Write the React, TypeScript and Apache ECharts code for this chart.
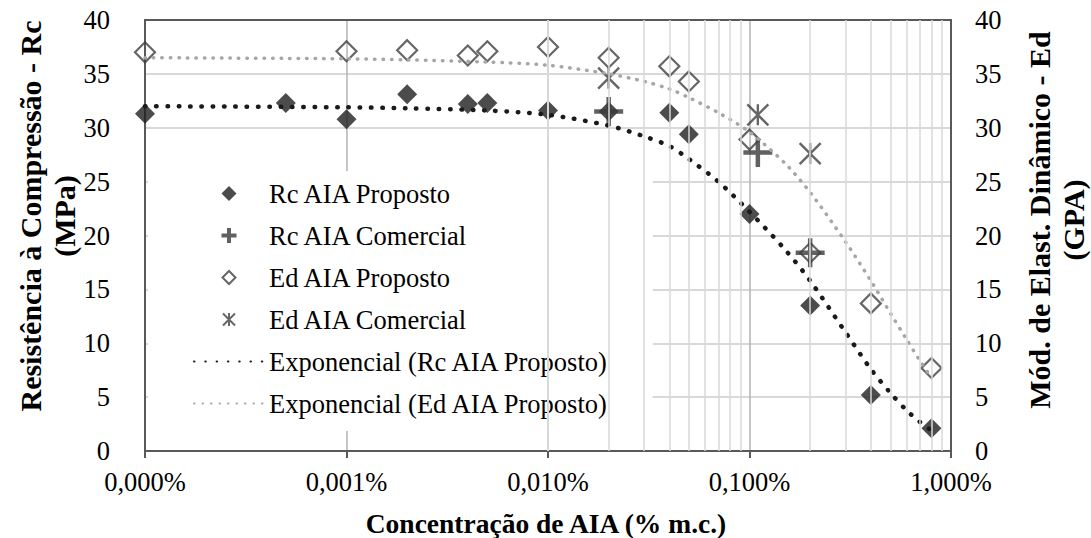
import React, { useEffect, useRef } from "react";
import * as echarts from "echarts";

// ---- data (concentration in % m.c., values in MPa / GPa) ----
const concRcProposto = [0.0001, 0.0005, 0.001, 0.002, 0.004, 0.005, 0.01, 0.02, 0.04, 0.05, 0.1, 0.2, 0.4, 0.8];
const rcProposto = [31.3, 32.3, 30.8, 33.1, 32.2, 32.3, 31.6, 31.5, 31.4, 29.4, 22.0, 13.5, 5.2, 2.1];

const concRcComercial = [0.02, 0.11, 0.2];
const rcComercial = [31.5, 27.7, 18.4];

const concEdProposto = [0.0001, 0.001, 0.002, 0.004, 0.005, 0.01, 0.02, 0.04, 0.05, 0.1, 0.2, 0.4, 0.8];
const edProposto = [37.0, 37.1, 37.2, 36.7, 37.1, 37.5, 36.5, 35.7, 34.3, 28.9, 18.4, 13.7, 7.7];

const concEdComercial = [0.02, 0.11, 0.2];
const edComercial = [34.6, 31.2, 27.6];

// trendlines
const trendConc = [0.0001, 0.001, 0.002, 0.005, 0.01, 0.02, 0.03, 0.04, 0.05, 0.07, 0.1, 0.15, 0.2, 0.3, 0.4, 0.5, 0.6, 0.7, 0.8];
const rcTrend = [32.0, 31.9, 31.8, 31.6, 31.2, 30.2, 29.2, 28.3, 27.1, 25.0, 22.2, 18.7, 15.8, 11.0, 7.6, 5.4, 3.8, 2.7, 1.9];
const edTrend = [36.5, 36.4, 36.3, 36.1, 35.8, 35.0, 34.3, 33.6, 32.8, 31.4, 29.6, 26.7, 24.0, 19.4, 15.8, 12.8, 10.4, 8.4, 6.8];

// axis structure
const decades = [0.0001, 0.001, 0.01, 0.1];
const minorMultipliers = [2, 3, 4, 5, 6, 7, 8, 9];

const names = {
  rcP: "Rc AIA Proposto",
  rcC: "Rc AIA Comercial",
  edP: "Ed AIA Proposto",
  edC: "Ed AIA Comercial",
  expRc: "Exponencial (Rc AIA Proposto)",
  expEd: "Exponencial (Ed AIA Proposto)",
};

const FONT = "'Liberation Serif', 'Times New Roman', serif";
const PLUS = "path://M12.25,0H16.75V12.25H29V16.75H16.75V29H12.25V16.75H0V12.25H12.25Z";
const STAR = "path://M0,0L20,20M20,0L0,20M10,0L10,20";

// legend icons: 70x16 bounding box so that the marker sits centred without stretching
const ICON_DIAMOND = "path://M0,0M70,16M27.5,8L35,0.5L42.5,8L35,15.5Z";
const ICON_OPEN_DIAMOND = "path://M0,0M70,16M28.5,8L35,1.5L41.5,8L35,14.5Z";
const ICON_PLUS = "path://M0,0M70,16M33,0.5H37V6H42.5V10H37V15.5H33V10H27.5V6H33Z";
const ICON_STAR = "path://M0,0M70,16M29,2L41,14M41,2L29,14M35,1.5L35,14.5";

const zip = (xs: number[], ys: number[]) => xs.map((x, i) => [x, ys[i]]);

export default function App() {
  const ref = useRef<HTMLDivElement>(null);
  useEffect(() => {
    document.body.style.margin = "0";
    if (!ref.current) return;
    const chart = echarts.init(ref.current, undefined, { renderer: "svg" });
    const minorLines: number[] = [];
    decades.forEach((d) => minorMultipliers.forEach((m) => minorLines.push(+(d * m).toPrecision(6))));

    chart.setOption({
      animation: false,
      backgroundColor: "#ffffff",
      textStyle: { fontFamily: FONT },
      grid: { left: 145, right: 140, top: 20, bottom: 87, containLabel: false },
      xAxis: [
        {
          type: "log",
          logBase: 10,
          min: 0.0001,
          max: 1,
          axisLine: { show: true, lineStyle: { color: "#595959", width: 2 } },
          axisTick: { show: true, length: 7, lineStyle: { color: "#595959", width: 2 } },
          axisLabel: {
            fontFamily: FONT,
            fontSize: 26.5,
            color: "#000",
            margin: 17,
            formatter: (v: number) => v.toFixed(3).replace(".", ",") + "%",
          },
          splitLine: { show: true, lineStyle: { color: "#b3b3b3", width: 1.5 } },
          minorTick: { show: false },
        },
        {
          type: "value",
          position: "top",
          min: 0,
          max: 1,
          axisLine: { show: true, onZero: false, lineStyle: { color: "#595959", width: 2 } },
          axisTick: { show: false },
          axisLabel: { show: false },
          splitLine: { show: false },
        },
      ],
      yAxis: [
        {
          type: "value",
          min: 0,
          max: 40,
          interval: 5,
          axisLine: { show: true, lineStyle: { color: "#595959", width: 2 } },
          axisTick: { show: false },
          axisLabel: { fontFamily: FONT, fontSize: 26.5, color: "#000", margin: 35 },
          splitLine: { show: true, lineStyle: { color: "#d9d9d9", width: 2 } },
        },
        {
          type: "value",
          min: 0,
          max: 40,
          interval: 5,
          position: "right",
          axisLine: { show: true, lineStyle: { color: "#595959", width: 2 } },
          axisTick: { show: false },
          axisLabel: { fontFamily: FONT, fontSize: 26.5, color: "#000", margin: 24 },
          splitLine: { show: false },
        },
      ],
      legend: {
        orient: "vertical",
        left: 148,
        top: 171,
        padding: [9, 43, 14, 45],
        backgroundColor: "#ffffff",
        itemWidth: 70,
        itemHeight: 16,
        itemGap: 15,
        textStyle: { fontFamily: FONT, fontSize: 26.5, color: "#000" },
        data: [
          { name: names.rcP, icon: ICON_DIAMOND },
          { name: names.rcC, icon: ICON_PLUS },
          { name: names.edP, icon: ICON_OPEN_DIAMOND },
          { name: names.edC, icon: ICON_STAR },
          { name: names.expRc },
          { name: names.expEd },
        ],
      },
      graphic: [
        {
          type: "text",
          x: 47,
          y: 216,
          rotation: Math.PI / 2,
          style: {
            text: "Resistência à Compressão - Rc\n(MPa)",
            fontFamily: FONT,
            fontSize: 30,
            fontWeight: "bold",
            lineHeight: 34,
            align: "center",
            verticalAlign: "middle",
            fill: "#000",
          },
        },
        {
          type: "text",
          x: 1056,
          y: 220,
          rotation: Math.PI / 2,
          style: {
            text: "Mód. de Elast. Dinâmico - Ed\n(GPA)",
            fontFamily: FONT,
            fontSize: 30,
            fontWeight: "bold",
            lineHeight: 34,
            align: "center",
            verticalAlign: "middle",
            fill: "#000",
          },
        },
        {
          type: "text",
          x: 546,
          y: 523,
          style: {
            text: "Concentração de AIA (% m.c.)",
            fontFamily: FONT,
            fontSize: 27.5,
            fontWeight: "bold",
            align: "center",
            verticalAlign: "middle",
            fill: "#000",
          },
        },
      ],
      series: [
        {
          name: "minor-grid",
          type: "line",
          data: [],
          z: 1,
          silent: true,
          markLine: {
            silent: true,
            symbol: ["none", "none"],
            label: { show: false },
            lineStyle: { color: "#d9d9d9", width: 1.5, type: "solid" },
            data: minorLines.map((v) => ({ xAxis: v })),
          },
        },
        {
          name: names.expRc,
          type: "line",
          smooth: 0.3,
          symbol: "none",
          data: zip(trendConc, rcTrend),
          lineStyle: { color: "#1a1a1a", width: 4.5, type: [0.5, 10.8], cap: "round" },
          itemStyle: { color: "rgba(0,0,0,0)", borderWidth: 0 },
        },
        {
          name: names.expEd,
          type: "line",
          smooth: 0.3,
          symbol: "none",
          yAxisIndex: 1,
          data: zip(trendConc, edTrend),
          lineStyle: { color: "#a6a6a6", width: 3.5, type: [0.5, 8], cap: "round" },
          itemStyle: { color: "rgba(0,0,0,0)", borderWidth: 0 },
        },
        {
          name: names.rcP,
          type: "scatter",
          symbol: "diamond",
          symbolSize: 20,
          data: zip(concRcProposto, rcProposto),
          itemStyle: { color: "#1f1f1f" },
        },
        {
          name: names.rcC,
          type: "scatter",
          symbol: PLUS,
          symbolSize: 29,
          data: zip(concRcComercial, rcComercial),
          itemStyle: { color: "#3a3a3a" },
        },
        {
          name: names.edP,
          type: "scatter",
          symbol: "diamond",
          symbolSize: 20,
          yAxisIndex: 1,
          data: zip(concEdProposto, edProposto),
          itemStyle: { color: "rgba(255,255,255,0)", borderColor: "#404040", borderWidth: 2.2 },
        },
        {
          name: names.edC,
          type: "scatter",
          symbol: STAR,
          symbolSize: 21,
          yAxisIndex: 1,
          data: zip(concEdComercial, edComercial),
          itemStyle: { color: "rgba(255,255,255,0)", borderColor: "#404040", borderWidth: 2.4 },
        },
      ],
    });
    return () => chart.dispose();
  }, []);
  return <div ref={ref} style={{ width: 1091, height: 538 }} />;
}
